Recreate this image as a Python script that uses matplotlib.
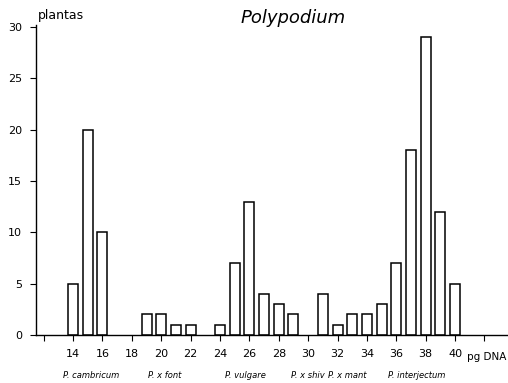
import matplotlib
matplotlib.use("Agg")
import matplotlib.pyplot as plt

dna_pg = [14, 15, 16, 19, 20, 21, 22, 24, 25, 26, 27, 28, 29, 31, 32, 33, 34, 35, 36, 37, 38, 39, 40]
plants = [5, 20, 10, 2, 2, 1, 1, 1, 7, 13, 4, 3, 2, 4, 1, 2, 2, 3, 7, 18, 29, 12, 5]
x_ticks = [12, 14, 16, 18, 20, 22, 24, 26, 28, 30, 32, 34, 36, 38, 40, 42]
x_tick_labels = ["", "14", "16", "18", "20", "22", "24", "26", "28", "30", "32", "34", "36", "38", "40", ""]
y_ticks = [0, 5, 10, 15, 20, 25, 30]
species = ["P. cambricum", "P. x font", "P. vulgare", "P. x shiv", "P. x mant", "P. interjectum"]
species_pos = [15.2, 20.25, 25.7, 30.0, 32.65, 37.4]

fig = plt.figure(figsize=(5.08, 3.83), dpi=100)
ax = fig.add_axes([36/508, (383-335)/383, (508-36)/508, (335-25)/383])
ax.bar(dna_pg, plants, width=0.68, color="white", edgecolor="black", linewidth=1.1)
ax.set_xlim(11.48, 43.6)
ax.set_ylim(0, 30.2)
ax.set_xticks(x_ticks)
ax.set_xticklabels(x_tick_labels, fontsize=8)
ax.set_yticks(y_ticks)
ax.set_yticklabels([str(v) for v in y_ticks], fontsize=8)
ax.tick_params(axis="x", length=4, width=0.8, pad=6)
ax.tick_params(axis="y", length=4, width=0.8, pad=6)
for s in ["top", "right"]:
    ax.spines[s].set_visible(False)
ax.spines["left"].set_linewidth(1.0)
ax.spines["bottom"].set_linewidth(1.0)

fig.text(38/508, 1 - 15/383, "plantas", fontsize=9, ha="left", va="center")
fig.text(293/508, 1 - 18/383, "Polypodium", fontsize=13, style="italic", ha="center", va="center")
fig.text(506/508, 1 - 357/383, "pg DNA", fontsize=7.5, ha="right", va="center")
y_sp = -(376-335)/(335-25)
for name, pos in zip(species, species_pos):
    ax.text(pos, y_sp, name, transform=ax.get_xaxis_transform(), fontsize=6, style="italic",
            ha="center", va="center")

fig.savefig("out.png", dpi=100)
